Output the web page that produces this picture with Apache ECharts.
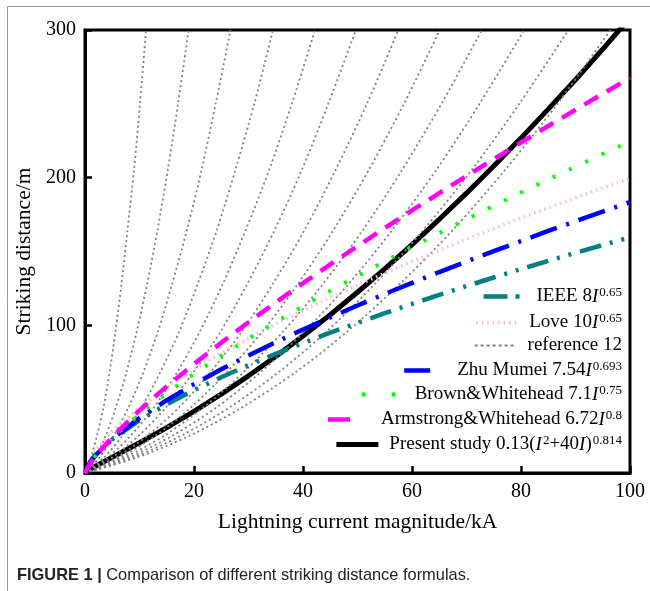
<!DOCTYPE html>
<html>
<head>
<meta charset="utf-8">
<script src="https://cdn.jsdelivr.net/npm/echarts@6/dist/echarts.min.js"></script>
<style>
html,body{margin:0;padding:0;background:#fff;}
#chart{width:650px;height:591px;}
</style>
</head>
<body>
<div id="chart"></div>
<script>
// ---- data ----
const currents = [0,1,2,5,10,15,20,25,30,35,40,45,50,55,60,65,70,75,80,85,90,95,100];
const ieee      = [0,8,12.6,22.8,35.7,46.5,56.1,64.8,73.0,80.7,88.0,95.0,101.7,108.2,114.5,120.6,126.6,132.4,138.1,143.6,149.1,154.4,159.6];
const love      = [0,10,15.7,28.5,44.7,58.2,70.1,81.0,91.2,100.9,110.0,118.8,127.2,135.3,143.2,150.8,158.3,165.5,172.6,179.6,186.3,193.0,199.5];
const zhu       = [0,7.54,12.19,23.0,37.2,49.3,60.1,70.2,79.6,88.6,97.2,105.4,113.4,121.2,128.7,136.1,143.2,150.2,157.1,163.9,170.5,177.0,183.4];
const brown     = [0,7.1,11.94,23.74,39.92,54.12,67.14,79.38,91.01,102.18,112.93,123.36,133.50,143.39,153.06,162.54,171.83,180.95,189.92,198.76,207.47,216.07,224.52];
const armstrong = [0,6.72,11.70,24.35,42.40,58.65,73.83,88.25,102.10,115.52,128.53,141.25,153.65,165.85,177.81,189.57,201.13,212.55,223.84,235.00,245.95,256.84,267.52];
const present   = [0,2.67,4.79,10.68,20.46,30.76,41.73,53.42,65.82,78.92,92.72,107.2,122.4,138.2,154.7,171.8,189.5,207.9,226.8,246.4,266.3,287.0,308.3];

// reference 12 family: striking distance levels and the current at which each curve reaches them
const refDistance = [0,10.6,25.4,44.6,68.2,96,128.2,164.6,205.4,250.6,300];
const refCurrents = [
  [0,1.1,2.2,3.4,4.5,5.6,6.7,7.8,9.0,10.1,11.2],
  [0,1.9,3.8,5.7,7.6,9.5,11.4,13.3,15.2,17.1,19.0],
  [0,2.7,5.3,8.0,10.7,13.4,16.0,18.7,21.4,24.0,26.7],
  [0,3.5,6.9,10.4,13.8,17.3,20.7,24.2,27.6,31.1,34.5],
  [0,4.2,8.4,12.7,16.9,21.1,25.3,29.5,33.8,38.0,42.2],
  [0,5.0,9.9,14.9,19.9,24.9,29.8,34.8,39.8,44.7,49.7],
  [0,5.8,11.5,17.3,23.0,28.8,34.5,40.3,46.0,51.8,57.5],
  [0,6.5,13.0,19.5,26.0,32.6,39.1,45.6,52.1,58.6,65.1],
  [0,7.3,14.6,21.8,29.1,36.4,43.7,51.0,58.2,65.5,72.8],
  [0,8.1,16.1,24.2,32.2,40.3,48.4,56.4,64.5,72.5,80.6],
  [0,8.9,17.7,26.6,35.5,44.4,53.2,62.1,71.0,79.8,88.7],
  [0,9.6,19.3,28.9,38.6,48.2,57.8,67.5,77.1,86.8,96.4]
];

const xTicks = [0,20,40,60,80,100];
const yTicks = [0,100,200,300];

const legendNames = ['IEEE','Love','reference 12','Zhu Mumei','Brown&Whitehead','Armstrong&Whitehead','Present study'];
const legendLabels = [
  'IEEE 8{i|I}{s|0.65}',
  'Love 10{i|I}{s|0.65}',
  'reference 12',
  'Zhu Mumei 7.54{i|I}{s|0.693}',
  'Brown&Whitehead 7.1{i|I}{s|0.75}',
  'Armstrong&Whitehead 6.72{i|I}{s|0.8}',
  'Present study 0.13({i|I}{s|2}+40{i|I}){s|0.814}'
];

// ---- build ----
const pair = (xs, ys) => xs.map((x, i) => [x, ys[i]]);
const serif = 'Liberation Serif';

function lineSeries(name, ys, color, width, dash, z) {
  return {
    name: name, type: 'line', data: pair(currents, ys),
    showSymbol: false, symbol: 'none', smooth: false,
    lineStyle: { color: color, width: width, type: dash, cap: 'butt' },
    itemStyle: { color: color }, z: z, silent: true
  };
}

const series = [];
series.push(lineSeries('Present study', present, '#000000', 5, 'solid', 2));
refCurrents.forEach(function (xs) {
  series.push({
    name: 'reference 12', type: 'line', data: pair(xs, refDistance),
    showSymbol: false, symbol: 'none', smooth: 0.3,
    lineStyle: { color: '#808080', width: 1.8, type: [2, 3] },
    itemStyle: { color: '#808080' }, z: 3, silent: true
  });
});
series.push(lineSeries('Love', love, '#ffb8c4', 3.5, [1.5, 4], 3));
series.push(lineSeries('IEEE', ieee, '#008080', 4.5, [22, 9, 3, 9, 3, 9], 4));
series.push(lineSeries('Zhu Mumei', zhu, '#0000ff', 4.5, [28, 10, 3, 10], 4));
series.push(lineSeries('Brown&Whitehead', brown, '#00ff00', 4, [3, 15], 4));
series.push(lineSeries('Armstrong&Whitehead', armstrong, '#ff00ff', 4.5, [16, 10], 4));

const legendDash = [[24, 8, 4, 6], [1.5, 4], [3, 3], [26, 16], [4, 26], [22, 20], 'solid'];
const legendColor = ['#008080', '#ffb8c4', '#808080', '#0000ff', '#00ff00', '#ff00ff', '#000000'];
const legendWidth = [4.5, 3.5, 1.8, 4.5, 4, 4.5, 5];
const rowTops = [286, 312, 336, 360, 384, 409, 434];
const legends = legendNames.map(function (n, k) {
  return {
    data: [n], right: 28, top: rowTops[k], orient: 'horizontal',
    padding: 0, itemWidth: 42, itemHeight: 14, selectedMode: false,
    itemStyle: { opacity: 0 },
    lineStyle: { color: legendColor[k], width: legendWidth[k], type: legendDash[k], cap: 'butt' },
    formatter: function () { return legendLabels[k]; },
    textStyle: {
      fontFamily: serif, fontSize: 19, color: '#000', padding: [0, 0, 0, 6],
      rich: {
        i: { fontFamily: serif, fontSize: 19, fontStyle: 'italic', color: '#000' },
        s: { fontFamily: serif, fontSize: 13, color: '#000', verticalAlign: 'top', padding: [0, 0, 8, 1] }
      }
    }
  };
});

const chart = echarts.init(document.getElementById('chart'), null, { renderer: 'canvas' });
chart.setOption({
  animation: false,
  backgroundColor: '#ffffff',
  grid: { left: 85, right: 20, top: 30, bottom: 118, show: true, borderColor: '#000', borderWidth: 3, backgroundColor: 'transparent' },
  xAxis: {
    type: 'value', min: xTicks[0], max: xTicks[xTicks.length - 1], interval: 20,
    name: 'Lightning current magnitude/kA', nameLocation: 'middle', nameGap: 38,
    nameTextStyle: { fontFamily: serif, fontSize: 21.5, color: '#000' },
    axisLine: { lineStyle: { color: '#000', width: 3 } },
    axisTick: { inside: true, length: 7, lineStyle: { color: '#000', width: 2.5 } },
    axisLabel: { fontFamily: serif, fontSize: 20, color: '#000', margin: 9 },
    splitLine: { show: false }
  },
  yAxis: {
    type: 'value', min: yTicks[0], max: yTicks[yTicks.length - 1], interval: 100,
    name: 'Striking distance/m', nameLocation: 'middle', nameGap: 42,
    nameTextStyle: { fontFamily: serif, fontSize: 21.5, color: '#000' },
    axisLine: { lineStyle: { color: '#000', width: 3 } },
    axisTick: { inside: true, length: 7, lineStyle: { color: '#000', width: 2.5 } },
    axisLabel: { fontFamily: serif, fontSize: 20, color: '#000', margin: 9 },
    splitLine: { show: false }
  },
  legend: legends,
  series: series,
  graphic: [
    { type: 'line', shape: { x1: 7.5, y1: 6.5, x2: 650, y2: 6.5 }, style: { stroke: '#9a9a9a', lineWidth: 1 }, silent: true },
    { type: 'line', shape: { x1: 7.5, y1: 6.5, x2: 7.5, y2: 591 }, style: { stroke: '#9a9a9a', lineWidth: 1 }, silent: true },
    {
      type: 'text', left: 17, top: 567, silent: true,
      style: {
        text: '{b|FIGURE 1 |} Comparison of different striking distance formulas.',
        font: '16.4px "Liberation Sans"', fill: '#222',
        rich: { b: { font: 'bold 16.4px "Liberation Sans"', fill: '#222' } }
      }
    }
  ]
});
</script>
</body>
</html>
